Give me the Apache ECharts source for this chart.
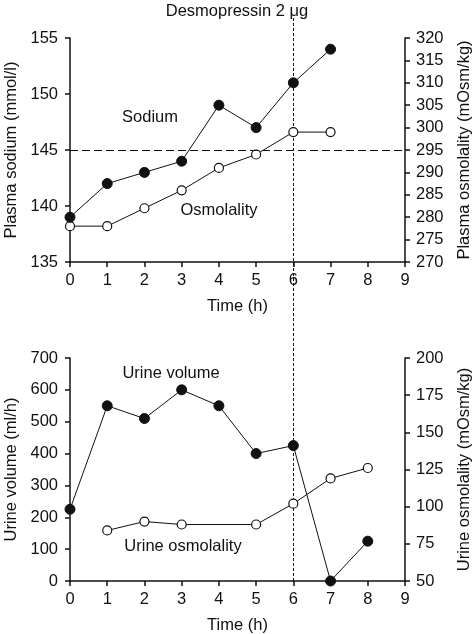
<!DOCTYPE html>
<html>
<head>
<meta charset="utf-8">
<script src="https://cdn.jsdelivr.net/npm/echarts@6/dist/echarts.min.js"></script>
<style>html,body{margin:0;padding:0;background:#fff}#c{width:474px;height:634px}</style>
</head>
<body>
<div id="c"></div>
<script>
// ---- data ----
const hoursPlasma = [0, 1, 2, 3, 4, 5, 6, 7];
const sodium = [139, 142, 143, 144, 149, 147, 151, 154];
const plasmaOsm = [278, 278, 282, 286, 291, 294, 299, 299];
const hoursUrineVol = [0, 1, 2, 3, 4, 5, 6, 7, 8];
const urineVolume = [225, 550, 510, 600, 550, 400, 425, 0, 125];
const hoursUrineOsm = [1, 2, 3, 5, 6, 7, 8];
const urineOsm = [84, 90, 88, 88, 102, 119, 126];
const sodiumRef = 145;
const desmoHour = 6;
const timeTicks = [0, 1, 2, 3, 4, 5, 6, 7, 8, 9];

const pairs = (xs, ys) => xs.map((x, i) => [x, ys[i]]);
const FONT = '"Liberation Sans", Arial, sans-serif';
const FS = 16.5;
const INK = '#111';

const axisCommon = {
  axisLine: { show: true, lineStyle: { color: INK, width: 1.5 } },
  axisTick: { show: true, inside: false, length: 5, lineStyle: { color: INK, width: 1.5 } },
  axisLabel: { color: INK, fontSize: FS, fontFamily: FONT },
  splitLine: { show: false },
  nameTextStyle: { color: INK, fontSize: FS, fontFamily: FONT },
  nameLocation: 'middle'
};
function xAx(gi) {
  return Object.assign({}, axisCommon, {
    type: 'value', gridIndex: gi, min: timeTicks[0], max: timeTicks[timeTicks.length - 1], interval: 1,
    name: 'Time (h)', nameGap: 36,
    axisLabel: Object.assign({}, axisCommon.axisLabel, { margin: 10 })
  });
}
function yAx(gi, pos, min, max, interval, name, gap, margin) {
  return Object.assign({}, axisCommon, {
    type: 'value', gridIndex: gi, position: pos, min, max, interval,
    name, nameGap: gap, nameRotate: 90,
    axisLabel: Object.assign({}, axisCommon.axisLabel, { margin })
  });
}
const filled = { symbol: 'circle', symbolSize: 10, itemStyle: { color: INK, borderColor: INK, borderWidth: 1 } };
const open = { symbol: 'circle', symbolSize: 9, itemStyle: { color: '#fff', borderColor: INK, borderWidth: 1.2 } };

const chart = echarts.init(document.getElementById('c'), null, { renderer: 'canvas' });
const option = {
  animation: false,
  backgroundColor: '#fff',
  title: {
    text: 'Desmopressin 2 \u03bcg', left: 'center', top: 0, padding: [3, 0, 0, 0],
    textStyle: { fontSize: FS, fontWeight: 'normal', color: INK, fontFamily: FONT }
  },
  grid: [
    { left: 70, right: 69, top: 38, height: 224, containLabel: false, outerBoundsMode: 'none' },
    { left: 70, right: 69, top: 358, height: 223, containLabel: false, outerBoundsMode: 'none' }
  ],
  xAxis: [xAx(0), xAx(1)],
  yAxis: [
    yAx(0, 'left', 135, 155, 5, 'Plasma sodium (mmol/l)', 48, 12),
    yAx(0, 'right', 270, 320, 5, 'Plasma osmolality (mOsm/kg)', 51, 11),
    yAx(1, 'left', 0, 700, 100, 'Urine volume (ml/h)', 48, 12),
    yAx(1, 'right', 50, 200, 25, 'Urine osmolality (mOsm/kg)', 51, 11)
  ],
  series: [
    Object.assign({
      type: 'line', xAxisIndex: 0, yAxisIndex: 1, clip: false, z: 2,
      data: pairs(hoursPlasma, plasmaOsm), lineStyle: { color: INK, width: 1 }
    }, open),
    Object.assign({
      type: 'line', xAxisIndex: 0, yAxisIndex: 0, clip: false, z: 3,
      data: pairs(hoursPlasma, sodium), lineStyle: { color: INK, width: 1 },
      markLine: {
        silent: true, symbol: 'none', label: { show: false },
        lineStyle: { color: INK, width: 1, type: [8, 4] },
        data: [{ yAxis: sodiumRef }]
      }
    }, filled),
    Object.assign({
      type: 'line', xAxisIndex: 1, yAxisIndex: 2, clip: false, z: 2,
      data: pairs(hoursUrineVol, urineVolume), lineStyle: { color: INK, width: 1 }
    }, filled),
    Object.assign({
      type: 'line', xAxisIndex: 1, yAxisIndex: 3, clip: false, z: 3,
      data: pairs(hoursUrineOsm, urineOsm), lineStyle: { color: INK, width: 1 }
    }, open)
  ]
};
chart.setOption(option);

// annotations and desmopressin line through library scales
const xPix = chart.convertToPixel({ xAxisIndex: 0 }, desmoHour);
const yBottom = chart.convertToPixel({ yAxisIndex: 2 }, 0);
const txt = (x, y, s) => ({
  type: 'text', x, y,
  style: { text: s, fill: INK, fontSize: FS, fontFamily: FONT, align: 'center', verticalAlign: 'middle' }
});
chart.setOption({
  graphic: [
    {
      type: 'line', z: 1, silent: true,
      shape: { x1: Math.round(xPix) + 0.5, y1: 18, x2: Math.round(xPix) + 0.5, y2: yBottom },
      style: { stroke: INK, lineWidth: 1, lineDash: [3, 2] }
    },
    txt(150, 117, 'Sodium'),
    txt(219, 210, 'Osmolality'),
    txt(171, 373, 'Urine volume'),
    txt(183, 546, 'Urine osmolality')
  ]
});
</script>
</body>
</html>
